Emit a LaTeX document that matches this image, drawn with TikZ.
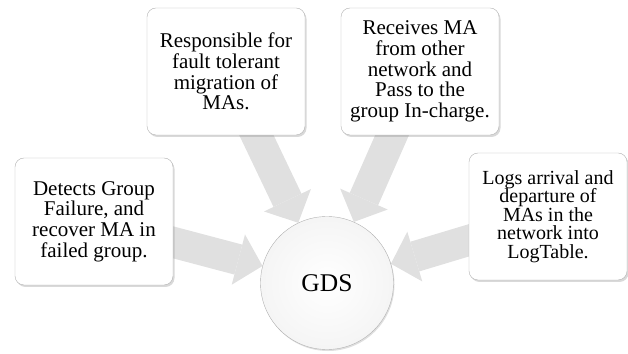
\documentclass[tikz,border=0pt]{standalone}
\usepackage{fontspec}
\setmainfont{Liberation Serif}
\usetikzlibrary{arrows.meta,shapes,positioning,shadows,backgrounds}

\begin{document}
\begin{tikzpicture}[x=1pt,y=1pt,
    caja/.style={draw=gray!60, fill=white, rounded corners=9pt,
        minimum width=158pt, minimum height=127pt, inner sep=0pt, align=center,
        font=\fontsize{21}{20.6}\selectfont,
        drop shadow={shadow xshift=1.5pt, shadow yshift=-2pt, opacity=0.3}},
    flecha/.style={draw=gray!24, line width=31pt, shorten <=-12pt,
        -{Triangle[width=52pt,length=25pt,line width=0pt]}}]
    \useasboundingbox (0,0) rectangle (628,353);

    % Cajas de funciones
    \node[caja] (deteccion) at (94,131.5) {Detects Group\\Failure, and\\recover MA in\\failed group.};
    \node[caja] (migracion) at (226,281.5) {Responsible for\\fault tolerant\\migration of\\MAs.};
    \node[caja] (recepcion) at (420,281.5) {Receives MA\\from other\\network and\\Pass to the\\group In-charge.};
    \node[caja, font=\fontsize{20}{18.6}\selectfont] (registro) at (548,136.5) {Logs arrival and\\departure of\\MAs in the\\network into\\LogTable.};

    % Nodo central
    \node[circle, draw=gray!60, inner color=white, outer color=gray!8,
        minimum size=133pt, inner sep=0pt, font=\fontsize{25.5}{30}\selectfont,
        drop shadow={shadow xshift=1pt, shadow yshift=-1.5pt, opacity=0.25}] (gds) at (327,70) {GDS};

    % Flechas hacia GDS
    \begin{scope}[on background layer]
        \foreach \caja in {deteccion,migracion,recepcion,registro}
            \draw[flecha] (\caja) -- (gds);
    \end{scope}
\end{tikzpicture}
\end{document}
